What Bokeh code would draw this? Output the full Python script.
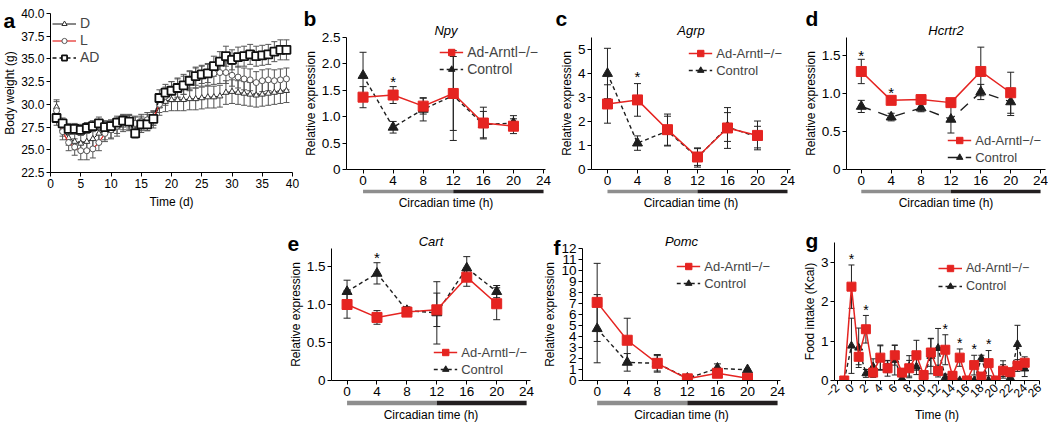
from bokeh.plotting import figure
from bokeh.layouts import row, column
from bokeh.models import (ColumnDataSource, Whisker, TeeHead, Legend, LegendItem,
                          Title, Range1d, FixedTicker, PrintfTickFormatter, Spacer,
                          GridBox)
from bokeh.core.properties import value
from bokeh.embed import file_html
from bokeh.resources import INLINE

FONT = "Liberation Sans"
RED = "#e52421"
DARK = "#1e1e1e"
PHASE_LIGHT = "#8e8e8e"
PHASE_DARK = "#231f20"
KO_LABEL = "Ad-Arntl\u2212/\u2212"

# ---------------- panel a : body weight ----------------
days = list(range(1, 40))
bw_D = [29.7, 27.3, 26.3, 25.9, 25.7, 25.9, 26.2, 26.8, 27.1, 27.2,
        27.5, 27.9, 28.0, 27.7, 27.8, 28.0, 28.3, 29.8, 30.3, 30.5,
        30.5, 30.5, 30.6, 30.6, 30.7, 30.8, 30.8, 30.9, 31.3, 31.4,
        31.3, 31.2, 31.1, 31.0, 31.1, 31.2, 31.3, 31.4, 31.5]
bw_D_err = [0.8, 0.8, 0.8, 0.9, 0.9, 1.0, 1.0, 1.0, 1.0, 1.0,
            1.0, 0.9, 0.9, 0.9, 0.9, 0.9, 0.9, 1.0, 1.1, 1.2,
            1.2, 1.2, 1.2, 1.2, 1.2, 1.2, 1.2, 1.2, 1.3, 1.3,
            1.3, 1.3, 1.3, 1.3, 1.3, 1.3, 1.3, 1.3, 1.3]
bw_L = [29.3, 27.0, 25.8, 25.3, 24.9, 24.9, 25.1, 25.8, 26.8, 27.2,
        27.6, 28.0, 28.0, 27.9, 28.1, 28.3, 28.5, 30.0, 30.9, 31.4,
        31.8, 32.2, 32.6, 32.9, 33.1, 33.3, 33.4, 33.5, 33.5, 33.2,
        33.0, 32.8, 32.7, 32.4, 32.6, 32.7, 32.6, 32.7, 32.8]
bw_L_err = [1.0, 0.9, 0.9, 0.9, 1.0, 1.0, 1.0, 0.9, 0.9, 0.9,
            0.8, 0.8, 0.8, 0.8, 0.8, 0.8, 0.8, 0.9, 1.0, 1.1,
            1.1, 1.1, 1.1, 1.1, 1.1, 1.2, 1.2, 1.2, 1.2, 1.2,
            1.2, 1.2, 1.2, 1.2, 1.2, 1.2, 1.2, 1.2, 1.2]
bw_AD = [28.5, 27.9, 27.3, 27.3, 27.2, 27.4, 27.6, 27.9, 27.5, 27.6,
         28.0, 28.2, 28.1, 26.8, 27.8, 27.8, 28.4, 30.7, 31.3, 31.5,
         31.8, 32.1, 32.6, 33.1, 33.3, 33.4, 34.2, 34.7, 35.3, 34.9,
         35.2, 35.3, 35.5, 35.3, 35.4, 35.5, 35.8, 36.0, 36.0]
bw_AD_err = [0.8, 0.6, 0.6, 0.6, 0.6, 0.6, 0.6, 0.7, 0.7, 0.7,
             0.7, 0.7, 0.7, 0.5, 0.7, 0.7, 0.7, 0.9, 0.9, 1.0,
             1.0, 1.0, 1.0, 1.0, 1.0, 1.0, 1.1, 1.1, 1.1, 1.1,
             1.1, 1.1, 1.1, 1.1, 1.1, 1.1, 1.1, 1.1, 1.1]
bw_xticks = [0, 5, 10, 15, 20, 25, 30, 35, 40]
bw_yticks = [22.5, 25.0, 27.5, 30.0, 32.5, 35.0, 37.5, 40.0]

# ---------------- panels b-f : circadian expression ----------------
ct_hours = [0, 4, 8, 12, 16, 20]
ct_ticks = [0, 4, 8, 12, 16, 20, 24]
phase_start = [0, 12]
phase_end = [12, 24]

npy_ko = [1.37, 1.41, 1.20, 1.44, 0.88, 0.82]
npy_ko_err = [0.20, 0.16, 0.15, 0.70, 0.30, 0.14]
npy_ctl = [1.78, 0.80, 1.14, 1.40, 0.85, 0.88]
npy_ctl_err = [0.44, 0.11, 0.22, 0.85, 0.25, 0.14]
npy_star_x, npy_star_y = [4], [1.76]
npy_yticks = [0, 0.5, 1.0, 1.5, 2.0, 2.5]

agrp_ko = [2.73, 2.90, 1.66, 0.52, 1.73, 1.42]
agrp_ko_err = [0.80, 0.68, 0.65, 0.35, 0.85, 0.60]
agrp_ctl = [4.00, 1.10, 1.60, 0.50, 1.77, 1.35]
agrp_ctl_err = [1.05, 0.30, 0.62, 0.40, 0.60, 0.45]
agrp_star_x, agrp_star_y = [4], [4.07]
agrp_yticks = [0, 1, 2, 3, 4, 5]

hcrtr2_ko = [1.29, 0.91, 0.92, 0.88, 1.29, 1.01]
hcrtr2_ko_err = [0.16, 0.02, 0.02, 0.05, 0.32, 0.27]
hcrtr2_ctl = [0.83, 0.69, 0.81, 0.66, 1.02, 0.89]
hcrtr2_ctl_err = [0.08, 0.05, 0.05, 0.18, 0.10, 0.18]
hcrtr2_star_x, hcrtr2_star_y = [0, 4], [1.57, 1.08]
hcrtr2_yticks = [0, 0.5, 1.0, 1.5]

cart_ko = [1.00, 0.83, 0.90, 0.93, 1.36, 1.01]
cart_ko_err = [0.18, 0.09, 0.05, 0.22, 0.12, 0.21]
cart_ctl = [1.17, 1.41, 0.92, 0.89, 1.48, 1.17]
cart_ctl_err = [0.15, 0.14, 0.05, 0.41, 0.15, 0.08]
cart_star_x, cart_star_y = [4], [1.69]
cart_yticks = [0, 0.5, 1.0, 1.5]

pomc_ko = [7.10, 3.66, 1.56, 0.15, 0.66, 0.20]
pomc_ko_err = [3.55, 2.00, 0.80, 0.20, 0.30, 0.05]
pomc_ctl = [4.71, 1.65, 1.56, 0.20, 1.11, 0.97]
pomc_ctl_err = [3.10, 0.80, 0.70, 0.15, 0.40, 0.05]
pomc_yticks = list(range(0, 13))

# ---------------- panel g : food intake ----------------
food_time = list(range(-1, 25))
food_ko = [0.0, 2.38, 0.60, 1.30, 0.20, 0.58, 0.31, 0.64, 0.20, 0.31,
           0.64, 0.14, 0.71, 0.24, 0.78, 0.12, 0.58, 0.0, 0.39, 0.10,
           0.44, 0.0, 0.25, 0.21, 0.38, 0.45]
food_ko_err = [0.0, 0.55, 0.20, 0.35, 0.12, 0.30, 0.20, 0.25, 0.10, 0.20,
               0.38, 0.08, 0.35, 0.15, 0.38, 0.08, 0.22, 0.02, 0.25, 0.08,
               0.32, 0.02, 0.15, 0.10, 0.15, 0.15]
food_ctl = [0.0, 0.88, 0.83, 0.18, 0.35, 0.58, 0.35, 0.52, 0.05, 0.35,
            0.35, 0.10, 0.62, 0.82, 0.08, 0.12, 0.0, 0.0, 0.0, 0.56,
            0.0, 0.0, 0.28, 0.08, 0.92, 0.30]
food_ctl_err = [0.0, 0.70, 0.50, 0.10, 0.20, 0.32, 0.15, 0.38, 0.05, 0.28,
                0.20, 0.08, 0.45, 0.50, 0.08, 0.10, 0.02, 0.02, 0.02, 0.08,
                0.02, 0.02, 0.22, 0.06, 0.48, 0.20]
food_star_x = [0, 2, 13, 15, 17, 19]
food_star_y = [3.2, 1.92, 1.43, 1.08, 0.92, 1.04]
food_xticks = list(range(-2, 27, 2))
food_yticks = [0, 1, 2, 3]

# panel letters (page layout, pixels)
panel_letters = ["a", "b", "c", "d", "e", "f", "g"]
letter_px = [3, 303, 555, 805, 287, 553, 805]
letter_py = [20, 18, 18, 18, 243, 247, 240]
PAGE_W, PAGE_H = 1048, 424


# ================= helpers =================
def style_axis(ax, tick_size="13.5px", label_size="12px"):
    ax.axis_line_color = "black"
    ax.axis_line_width = 1
    ax.major_tick_line_color = "black"
    ax.major_tick_out = 4
    ax.major_tick_in = 0
    ax.minor_tick_line_color = None
    ax.major_label_text_font = FONT
    ax.major_label_text_font_size = tick_size
    ax.major_label_text_color = "black"
    ax.major_label_standoff = 2
    ax.axis_label_text_font = FONT
    ax.axis_label_text_font_size = label_size
    ax.axis_label_text_font_style = "normal"
    ax.axis_label_text_color = "black"
    ax.axis_label_standoff = 1


def new_fig(w, h, xr, yr, bl, br, bt, bb, **kw):
    p = figure(width=w, height=h, x_range=xr, y_range=yr, output_backend="svg",
               toolbar_location=None, min_border_left=bl, min_border_right=br,
               min_border_top=bt, min_border_bottom=bb, **kw)
    p.xgrid.visible = False
    p.ygrid.visible = False
    p.outline_line_color = None
    return p


def series(p, x, y, err, color, dash, marker, size, fill, mline, lw, mlw=1.0,
           ecolor="#222222", head=7):
    lo = [v - e for v, e in zip(y, err)]
    hi = [v + e for v, e in zip(y, err)]
    src = ColumnDataSource(dict(x=x, y=y, lo=lo, hi=hi))
    p.add_layout(Whisker(source=src, base="x", lower="lo", upper="hi",
                         line_color=ecolor, line_width=1,
                         lower_head=TeeHead(size=head, line_color=ecolor, line_width=1),
                         upper_head=TeeHead(size=head, line_color=ecolor, line_width=1)))
    ln = p.line("x", "y", source=src, line_color=color, line_width=lw, line_dash=dash)
    sc = p.scatter("x", "y", source=src, marker=marker, size=size, fill_color=fill,
                   line_color=mline, line_width=mlw)
    return ln, sc


def add_legend(p, items, location, fs="13px", gh=16, margin=4, spacing=1):
    lg = Legend(items=[LegendItem(label=l, renderers=r) for l, r in items],
                location=location, label_text_font=FONT, label_text_font_size=fs,
                glyph_width=24, glyph_height=gh, label_height=gh, label_standoff=4,
                spacing=spacing, padding=0, margin=margin, border_line_color=None,
                background_fill_alpha=0)
    p.add_layout(lg)


def add_gene(p, text):
    p.add_layout(Title(text=text, align="center", standoff=0, text_font=FONT,
                       text_font_size="13px", text_font_style="italic",
                       text_color="black"), "above")


def add_stars(p, xs, ys, fs="15px"):
    p.text(x=xs, y=ys, text=["*"] * len(xs), text_font=value(FONT),
           text_font_size=fs, text_align="center", text_baseline="middle",
           text_color="black", y_offset=5)


def expr_panel(w, h, bl, br, bt, bar_h, bar_bb, xr, yr, yticks, ko, ko_err, ctl,
               ctl_err, gene, legend_loc, legend_margin=4, legend_fs="13px",
               stars=None, ctl_dash="4 3", decimals=True):
    xrange = Range1d(*xr)
    p = new_fig(w, h, xrange, Range1d(*yr), bl, br, bt, 20)
    for ax in p.axis:
        style_axis(ax)
    p.xaxis.ticker = FixedTicker(ticks=ct_ticks)
    p.yaxis.ticker = FixedTicker(ticks=yticks)
    if decimals:
        p.yaxis.formatter = PrintfTickFormatter(format="%.1f")
        p.yaxis.major_label_overrides = {0: "0"}
    p.yaxis.axis_label = "Relative expression"
    cl, cs = series(p, ct_hours, ctl, ctl_err, DARK, ctl_dash, "triangle", 10,
                    DARK, DARK, 1.4)
    rl, rs = series(p, ct_hours, ko, ko_err, RED, "solid", "square", 10,
                    RED, RED, 1.5)
    add_legend(p, [(KO_LABEL, [rl, rs]), ("Control", [cl, cs])], legend_loc,
               margin=legend_margin, fs=legend_fs)
    add_gene(p, gene)
    if stars:
        add_stars(p, *stars)

    q = new_fig(w, bar_h, xrange, Range1d(0, 1), bl, br, 0, bar_bb,
                y_axis_location=None)
    q.quad(left=phase_start, right=phase_end, bottom=0, top=1,
           fill_color=[PHASE_LIGHT, PHASE_DARK], line_color=None)
    style_axis(q.xaxis[0])
    q.xaxis.ticker = FixedTicker(ticks=[])
    q.xaxis.axis_line_color = None
    q.xaxis.major_tick_out = 0
    q.xaxis.axis_label_standoff = 2
    q.xaxis.axis_label = "Circadian time (h)"
    return column(p, q, spacing=0)


# ================= panel a =================
pa = new_fig(300, 212, Range1d(0, 40), Range1d(22.5, 40), 49, 8, 13, 40)
for ax in pa.axis:
    style_axis(ax, tick_size="12px", label_size="12px")
pa.xaxis.ticker = FixedTicker(ticks=bw_xticks)
pa.yaxis.ticker = FixedTicker(ticks=bw_yticks)
pa.yaxis.formatter = PrintfTickFormatter(format="%.1f")
pa.xaxis.axis_label = "Time (d)"
pa.xaxis.axis_label_standoff = 4
pa.yaxis.axis_label = "Body weight (g)"
dl, ds = series(pa, days, bw_D, bw_D_err, "#111111", "solid", "triangle", 6,
                "white", "#333333", 1.0, ecolor="#555555", head=6)
ll, ls = series(pa, days, bw_L, bw_L_err, RED, "solid", "circle", 6,
                "white", "#555555", 1.2, ecolor="#555555", head=6)
al, as_ = series(pa, days, bw_AD, bw_AD_err, "#111111", "4 3", "square", 8,
                 "white", "#111111", 1.3, mlw=1.8, ecolor="#555555", head=6)
add_legend(pa, [("D", [dl, ds]), ("L", [ll, ls]), ("AD", [al, as_])], "top_left",
           fs="14px", gh=13, margin=2, spacing=1)

# ================= panels b-d =================
pb = expr_panel(252, 189, 41, 7, 37, 23, 16, (-2.2, 24.26), (0, 2.5), npy_yticks,
                npy_ko, npy_ko_err, npy_ctl, npy_ctl_err, "Npy", "top_right",
                legend_margin=7, legend_fs="14px", stars=(npy_star_x, npy_star_y))
pc = expr_panel(248, 189, 39, 10, 37, 23, 16, (-2.13, 24.4), (0, 5.5), agrp_yticks,
                agrp_ko, agrp_ko_err, agrp_ctl, agrp_ctl_err, "Agrp", "top_right",
                legend_margin=8, stars=(agrp_star_x, agrp_star_y), decimals=False)
pd_ = expr_panel(248, 189, 43, 3, 37, 23, 16, (-1.98, 24.66), (0, 1.737),
                 hcrtr2_yticks, hcrtr2_ko, hcrtr2_ko_err, hcrtr2_ctl, hcrtr2_ctl_err,
                 "Hcrtr2", "bottom_right", legend_margin=4,
                 stars=(hcrtr2_star_x, hcrtr2_star_y), ctl_dash="10 8")

# ================= panels e-f =================
pe = expr_panel(255, 188, 40, 10, 36, 24, 18, (-2.08, 24.52), (0, 1.737),
                cart_yticks, cart_ko, cart_ko_err, cart_ctl, cart_ctl_err, "Cart",
                "bottom_right", legend_margin=3, stars=(cart_star_x, cart_star_y))
pf = expr_panel(255, 188, 37, 15, 36, 24, 18, (-1.95, 24.39), (0, 12), pomc_yticks,
                pomc_ko, pomc_ko_err, pomc_ctl, pomc_ctl_err, "Pomc", "top_right",
                legend_margin=10, decimals=False)

# ================= panel g =================
pg = new_fig(253, 212, Range1d(-2.35, 26.05), Range1d(0, 3.5), 39, 9, 30, 42)
for ax in pg.axis:
    style_axis(ax)
pg.xaxis.ticker = FixedTicker(ticks=food_xticks)
pg.yaxis.ticker = FixedTicker(ticks=food_yticks)
pg.xaxis.major_label_orientation = 0.785
pg.xaxis.major_label_text_font_size = "12px"
pg.xaxis.major_label_standoff = 1
pg.xaxis.axis_label = "Time (h)"
pg.xaxis.axis_label_standoff = 3
pg.yaxis.axis_label = "Food intake (Kcal)"
gcl, gcs = series(pg, food_time, food_ctl, food_ctl_err, DARK, "4 3", "triangle", 8,
                  DARK, DARK, 1.4, head=6)
grl, grs = series(pg, food_time, food_ko, food_ko_err, RED, "solid", "square", 9,
                  RED, RED, 1.5, head=6)
add_legend(pg, [(KO_LABEL, [grl, grs]), ("Control", [gcl, gcs])], (104, 86),
           margin=0, spacing=2, fs="12.5px")
add_stars(pg, food_star_x, food_star_y, fs="14px")

main = column(
    row(pa, pb, pc, pd_, spacing=0),
    row(Spacer(width=285, height=212), pe, pf, pg, spacing=0),
    spacing=0,
)

# transparent overlay carrying the panel letters
ov = figure(width=PAGE_W, height=PAGE_H, x_range=Range1d(0, PAGE_W),
            y_range=Range1d(PAGE_H, 0), output_backend="svg", toolbar_location=None,
            min_border=0, x_axis_location=None, y_axis_location=None,
            background_fill_color=None, border_fill_color=None)
ov.outline_line_color = None
ov.xgrid.visible = False
ov.ygrid.visible = False
ov.text(x=letter_px, y=letter_py, text=panel_letters, text_font=value(FONT),
        text_font_size="21px", text_font_style="bold", text_baseline="alphabetic",
        text_align="left", text_color="black")

page = GridBox(children=[(main, 0, 0), (ov, 0, 0)])

open("out.html", "w").write(file_html(page, INLINE))
